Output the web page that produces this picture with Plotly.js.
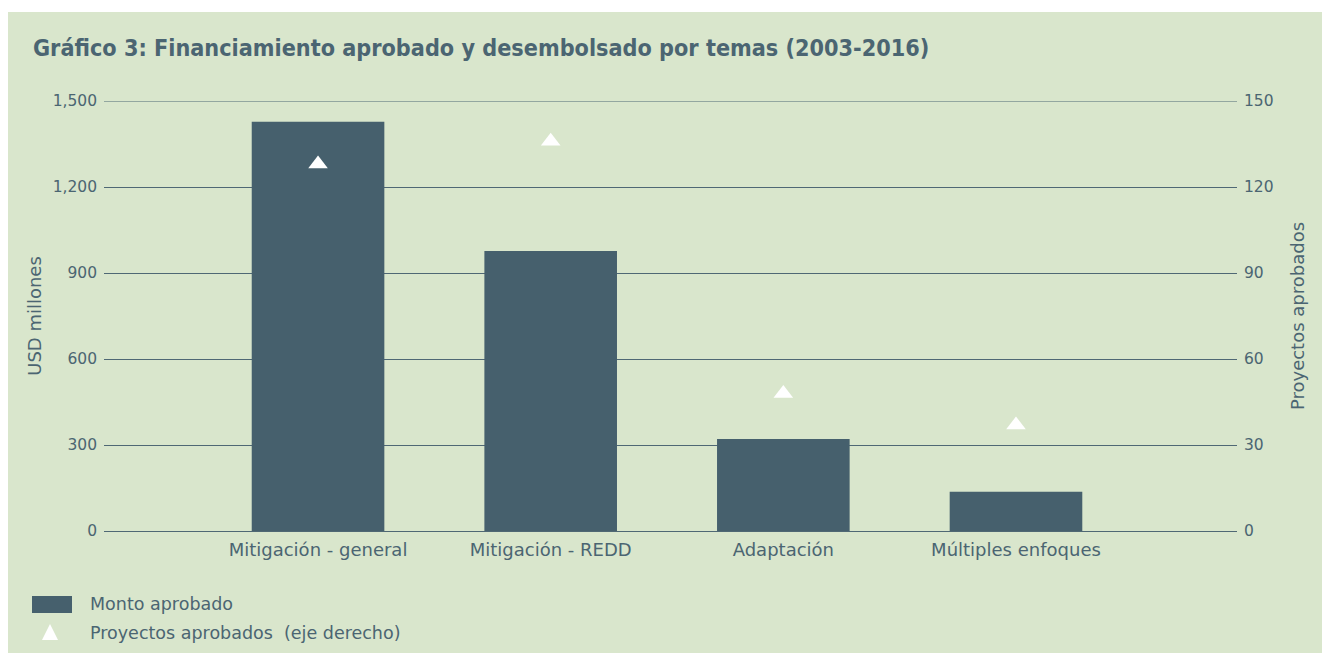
<!DOCTYPE html>
<html>
<head>
<meta charset="utf-8">
<script src="https://cdn.plot.ly/plotly-3.0.1.min.js"></script>
<style>
html,body{margin:0;padding:0;background:#ffffff;}
#chart{position:absolute;left:8px;top:12px;width:1314px;height:641px;}
</style>
</head>
<body>
<div id="chart"></div>
<script>
var categories = ["Mitigación - general", "Mitigación - REDD", "Adaptación", "Múltiples enfoques"];
var montoAprobado = [1428, 977, 321, 137];
var proyectosAprobados = [128, 136, 48, 37];
var leftTicks = [0, 300, 600, 900, 1200, 1500];
var rightTicks = [0, 30, 60, 90, 120, 150];
var legendLabels = ["Monto aprobado", "Proyectos aprobados  (eje derecho)"];

var BG = "#d9e6cc";
var SLATE = "#46606d";
var GRID = "#4f6874";
var TXT = "#4b6572";
var FONT = "DejaVu Sans, Noto Sans, sans-serif";
var COND = "DejaVu Sans Condensed, Liberation Sans Narrow, DejaVu Sans, sans-serif";

var W = 1314, H = 641;
var mL = 96, mR = 85, mT = 89, mB = 122;
var pw = W - mL - mR, ph = H - mT - mB;
function px(x){ return (x - mL) / pw; }
function py(y){ return (H - mB - y) / ph; }

var traces = [
  {
    type: "bar", x: categories, y: montoAprobado, name: legendLabels[0],
    marker: {color: SLATE}, width: 0.57, showlegend: false, hoverinfo: "skip"
  },
  {
    type: "scatter", mode: "markers", x: categories, y: proyectosAprobados, yaxis: "y2",
    name: legendLabels[1], marker: {symbol: "triangle-up", size: 17, color: "#ffffff"},
    showlegend: false, hoverinfo: "skip"
  }
];

var layout = {
  width: W, height: H,
  paper_bgcolor: BG, plot_bgcolor: BG,
  margin: {l: mL, r: mR, t: mT, b: mB},
  showlegend: false,
  title: {
    text: "<b>Gráfico 3: Financiamiento aprobado y desembolsado por temas (2003-2016)</b>",
    font: {family: COND, size: 23.2, color: TXT},
    xref: "container", yref: "container", x: 25 / W, xanchor: "left",
    y: 1 - 36 / H, yanchor: "middle"
  },
  xaxis: {
    type: "category", range: [-0.92, 3.95],
    showgrid: false, zeroline: false, showline: false, ticks: "",
    ticklabelstandoff: 6,
    tickfont: {family: FONT, size: 18, color: TXT}, fixedrange: true
  },
  yaxis: {
    range: [0, 1500], tickvals: leftTicks, tickformat: ",d",
    showgrid: true, gridcolor: GRID, gridwidth: 1,
    zeroline: true, zerolinecolor: GRID, zerolinewidth: 1,
    showline: false, ticks: "", ticklabelstandoff: 6,
    tickfont: {family: FONT, size: 15.5, color: TXT},
    title: {text: "USD millones", font: {family: FONT, size: 18, color: TXT}, standoff: 6},
    fixedrange: true
  },
  yaxis2: {
    overlaying: "y", side: "right", range: [0, 150], tickvals: rightTicks,
    showgrid: false, zeroline: false, showline: false, ticks: "",
    tickfont: {family: FONT, size: 15.5, color: TXT}, ticklabelstandoff: 6,
    title: {text: "Proyectos aprobados", font: {family: FONT, size: 18, color: TXT}, standoff: 18},
    fixedrange: true
  },
  shapes: [
    {type: "line", xref: "paper", yref: "y", x0: 0, x1: 1, y0: 1500, y1: 1500,
     layer: "below", line: {color: GRID, width: 1}},
    {type: "rect", xref: "paper", yref: "paper",
     x0: px(24), x1: px(64), y0: py(601), y1: py(584),
     fillcolor: SLATE, line: {width: 0}},
    {type: "path", xref: "paper", yref: "paper",
     path: "M " + px(34) + " " + py(628) + " L " + px(50) + " " + py(628) + " L " + px(42) + " " + py(612) + " Z",
     fillcolor: "#ffffff", line: {width: 0}}
  ],
  annotations: [
    {text: legendLabels[0], xref: "paper", yref: "paper", x: px(80), y: py(592),
     xanchor: "left", yanchor: "middle", showarrow: false,
     font: {family: FONT, size: 17.5, color: TXT}},
    {text: legendLabels[1], xref: "paper", yref: "paper", x: px(80), y: py(621),
     xanchor: "left", yanchor: "middle", showarrow: false,
     font: {family: FONT, size: 17.5, color: TXT}}
  ]
};

Plotly.newPlot("chart", traces, layout, {displayModeBar: false, staticPlot: true});
</script>
</body>
</html>
